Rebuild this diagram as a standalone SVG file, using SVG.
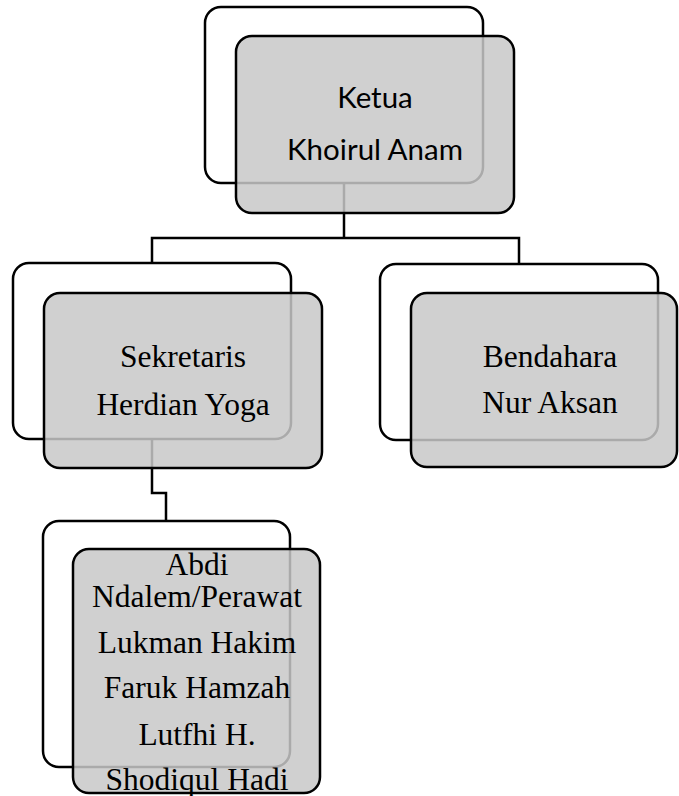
<svg xmlns="http://www.w3.org/2000/svg" width="679" height="796" viewBox="0 0 679 796">
<style>
.back{fill:#ffffff;stroke:#000000;stroke-width:2.5}
.front{fill:#c8c8c8;fill-opacity:0.85;stroke:#000000;stroke-width:2.5}
.conn{fill:none;stroke:#000000;stroke-width:2.5}
.sans{font-family:Lato,"Open Sans",sans-serif;font-size:29.5px;fill:#000000;text-anchor:middle}
.serif{font-family:"Liberation Serif","Times New Roman",serif;font-size:31.5px;fill:#000000;text-anchor:middle}
</style>
<rect width="679" height="796" fill="#ffffff"/>
<g id="connectors">
<path class="conn" d="M344,183 V238"/>
<path class="conn" d="M152,263 V238 H519 V264"/>
<path class="conn" d="M152,439 V493 H166 V521"/>
</g>
<g id="ketua">
<rect class="back" x="205" y="7" width="278" height="176" rx="16"/>
<rect class="front" x="236" y="36" width="278" height="177" rx="16"/>
<text class="sans" x="375" y="108">Ketua</text>
<text class="sans" x="375" y="160">Khoirul Anam</text>
</g>
<g id="sekretaris">
<rect class="back" x="13" y="263" width="278" height="176" rx="16"/>
<rect class="front" x="44" y="293" width="278" height="175" rx="16"/>
<text class="serif" x="183" y="367">Sekretaris</text>
<text class="serif" x="183" y="415">Herdian Yoga</text>
</g>
<g id="bendahara">
<rect class="back" x="380" y="264" width="278" height="176" rx="16"/>
<rect class="front" x="411" y="293" width="266" height="174" rx="16"/>
<text class="serif" x="550" y="367">Bendahara</text>
<text class="serif" x="550" y="413">Nur Aksan</text>
</g>
<g id="abdi">
<rect class="back" x="43" y="521" width="247" height="246" rx="16"/>
<rect class="front" x="73" y="549" width="247" height="244" rx="16"/>
<text class="serif" x="197" y="575">Abdi</text>
<text class="serif" x="197" y="607">Ndalem/Perawat</text>
<text class="serif" x="197" y="653">Lukman Hakim</text>
<text class="serif" x="197" y="698">Faruk Hamzah</text>
<text class="serif" x="197" y="745">Lutfhi H.</text>
<text class="serif" x="197" y="790">Shodiqul Hadi</text>
</g>
</svg>
